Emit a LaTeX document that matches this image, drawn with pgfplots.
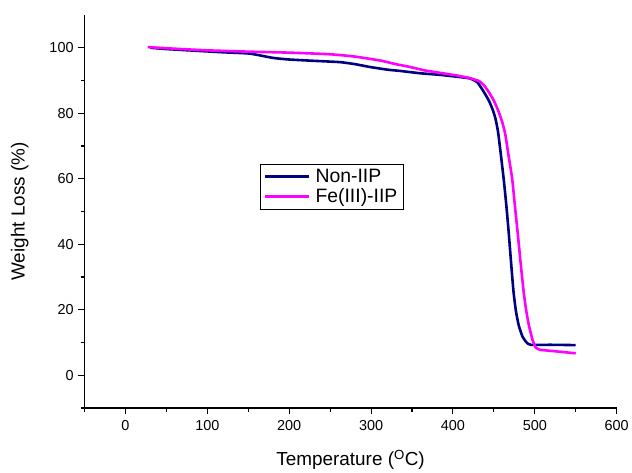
\documentclass[border=0pt]{standalone}
\usepackage{fontspec}
\setmainfont{Liberation Sans}
\usepackage{pgfplots}
\pgfplotsset{compat=1.18}
\definecolor{navyc}{RGB}{0,0,128}
\definecolor{magc}{RGB}{255,0,255}
\begin{document}
\begin{tikzpicture}
\begin{axis}[
  at={(0,0)}, anchor=south west,
  scale only axis, width=533bp, height=393.7bp,
  xmin=-50, xmax=600, ymin=-10, ymax=110,
  axis lines*=left,
  axis line style={line width=1.3bp, black},
  xtick={0,100,...,600}, ytick={0,20,...,100},
  minor xtick={-50,50,150,250,350,450,550},
  minor ytick={-10,10,30,50,70,90},
  tick align=outside,
  major tick length=6.5bp, minor tick length=4bp,
  every tick/.style={black, line width=1.1bp},
  /pgf/number format/assume math mode=true,
  ticklabel style={font=\fontsize{14.5}{17}\selectfont},
  xticklabel style={yshift=-2bp},
  yticklabel style={xshift=-1bp},
  xlabel={Temperature (\textsuperscript{O}C)},
  ylabel={Weight Loss (\%)},
  label style={font=\fontsize{19}{22}\selectfont},
  xlabel style={at={(axis description cs:0.5,-0.132)}, anchor=center},
  ylabel style={at={(axis description cs:-0.122,0.5)}, anchor=center, rotate=0},
  legend style={at={(axis description cs:0.329,0.6215)}, anchor=north west,
    draw=black, line width=0.8bp, font=\fontsize{19.5}{21}\selectfont,
    inner xsep=4bp, inner ysep=3bp, row sep=1bp,
    /tikz/every odd column/.style={column sep=3bp}},
  legend cell align=left,
  legend image code/.code={\draw[#1] (0bp,0bp) -- (44bp,0bp);},
]
\addplot[navyc, line width=2.6bp, smooth, tension=0.3] coordinates {
(30,100) (50,99.6) (91,99.0) (120,98.6) (152,98.2) (180,96.9) (200,96.4)
(230,96.0) (262,95.6) (280,95.0) (299,94.1) (320,93.3) (336,92.9) (360,92.2)
(385,91.7) (410,91.0) (421,90.6) (430,89.4) (438,86.4) (444,83.8) (449,80.8)
(452,78.3) (455,74.5) (458,68.5) (462,59.9) (465,52.5) (468,44) (471,34.5)
(474,25.5) (477,19.5) (480.5,15.1) (485,11.8) (490,10) (495,9.3) (520,9.3) (550,9.2)
};
\addlegendentry{Non-IIP}
\addplot[magc, line width=2.6bp, smooth, tension=0.3] coordinates {
(27,100.2) (60,99.7) (100,99.2) (150,98.8) (200,98.5) (250,98.0) (280,97.3)
(311,96.1) (330,95.0) (348,94.1) (365,93.1) (385,92.3) (405,91.5) (421,90.7)
(432,89.8) (438,88.5) (444,86.4) (450,83.8) (455,81.0) (460,77.5) (464,73.5)
(468,67) (472.4,59.9) (476,51) (479.5,42.5) (483,33.5) (486.7,24.8) (490,19)
(493,15) (497,11) (501,8.5) (506,7.8) (513,7.6) (530,7.2) (550,6.7)
};
\addlegendentry{Fe(III)-IIP}
\end{axis}
\path[use as bounding box] (-84.7bp,-64.3bp) rectangle (547.3bp,408.7bp);
\end{tikzpicture}
\end{document}
